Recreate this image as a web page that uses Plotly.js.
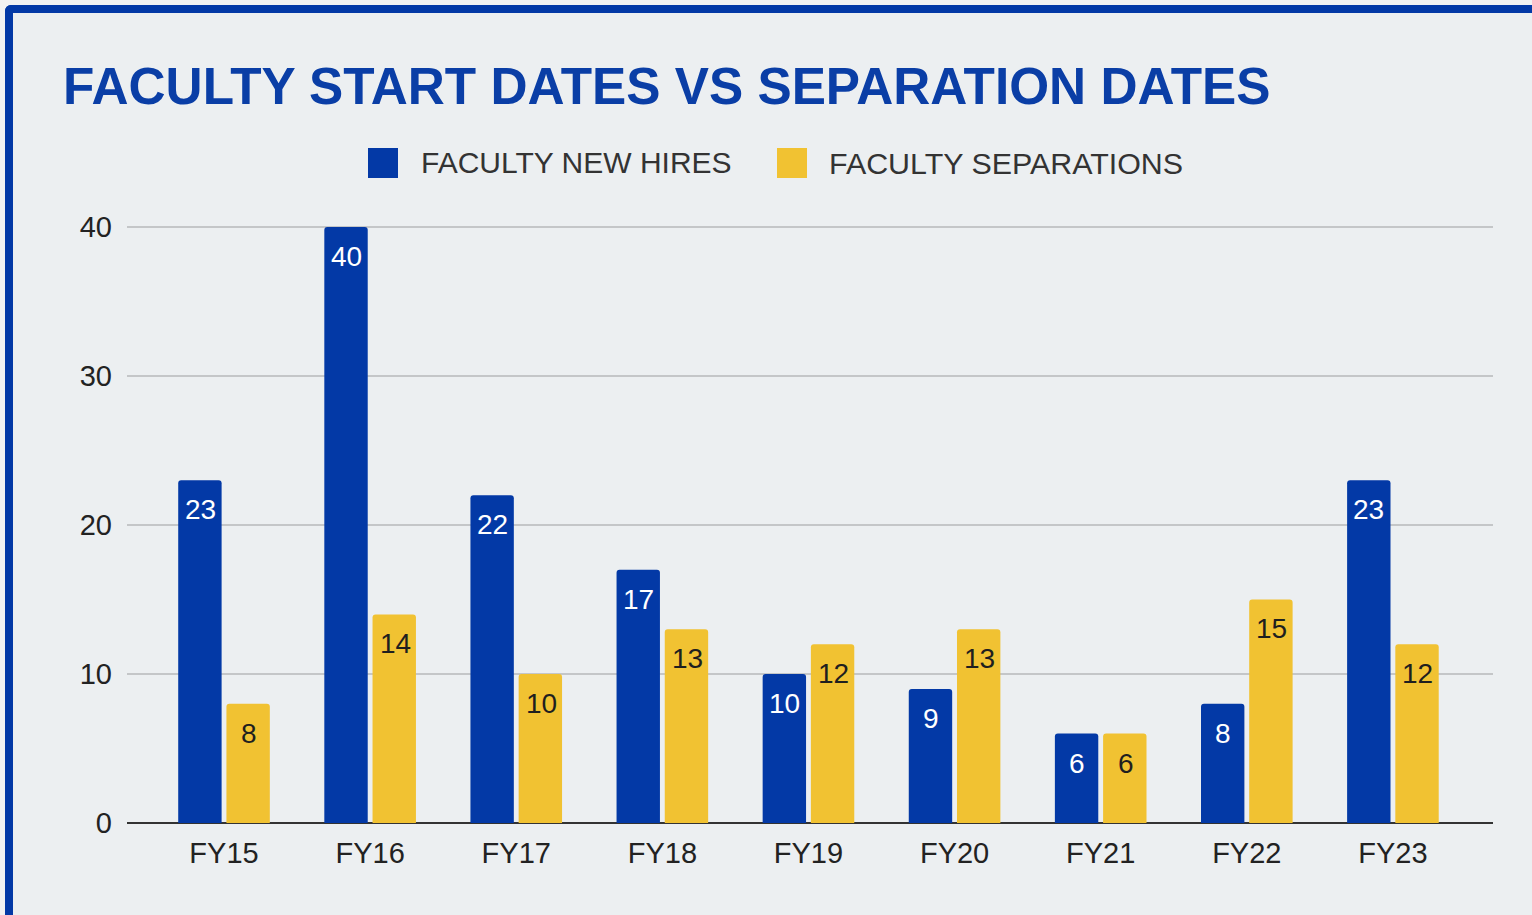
<!DOCTYPE html>
<html>
<head>
<meta charset="utf-8">
<script src="https://cdn.plot.ly/plotly-3.0.1.min.js"></script>
<style>
  html, body { margin:0; padding:0; background:#f2f2f2; width:1532px; height:915px; overflow:hidden; }
  #frame { position:absolute; left:5px; top:5px; width:1527px; height:910px; box-sizing:border-box;
           border-top:8px solid #0339A6; border-left:8px solid #0339A6; border-top-left-radius:6px;
           background:#ECEFF1; }
  #chart { position:absolute; left:0; top:0; width:1519px; height:902px; }
</style>
</head>
<body>
<div id="frame"><div id="chart"></div></div>
<script>
const categories = ["FY15","FY16","FY17","FY18","FY19","FY20","FY21","FY22","FY23"];
const newHires = [23, 40, 22, 17, 10, 9, 6, 8, 23];
const separations = [8, 14, 10, 13, 12, 13, 6, 15, 12];
const seriesNames = ["FACULTY NEW HIRES", "FACULTY SEPARATIONS"];
const yTicks = [0, 10, 20, 30, 40];

const BLUE = "#0339A6", YELLOW = "#F1C232", TEXT = "#222222";
const W = 1519, H = 902, ML = 114, MR = 39, MT = 211, MB = 92;
const PW = W - ML - MR, PH = H - MT - MB;
const px2x = p => (p - ML) / PW;
const px2y = p => (H - MB - p) / PH;

const traces = [
  { type:"bar", x:categories, y:newHires, name:seriesNames[0], marker:{color:BLUE}, showlegend:false, hoverinfo:"x+y" },
  { type:"bar", x:categories, y:separations, name:seriesNames[1], marker:{color:YELLOW}, showlegend:false, hoverinfo:"x+y" }
];

const annotations = [];
const SLOT_HALF = 24;
categories.forEach((c, i) => {
  annotations.push({ x:c, y:newHires[i], xref:"x", yref:"y", xshift:-SLOT_HALF, yshift:-12, yanchor:"top",
    text:String(newHires[i]), showarrow:false, font:{family:"Liberation Sans, Arial, sans-serif", size:28, color:"#ffffff"} });
  annotations.push({ x:c, y:separations[i], xref:"x", yref:"y", xshift:SLOT_HALF + 1, yshift:-12, yanchor:"top",
    text:String(separations[i]), showarrow:false, font:{family:"Liberation Sans, Arial, sans-serif", size:28, color:"#1f1f1f"} });
});

// legend (manual, to match large square swatches)
const legendItems = [
  { color:BLUE, name:seriesNames[0], sq:355, tx:406, fs:30 },
  { color:YELLOW, name:seriesNames[1], sq:764, tx:814, fs:30.4 }
];
const shapes = [];
legendItems.forEach(it => {
  shapes.push({ type:"rect", xref:"paper", yref:"paper", x0:px2x(it.sq), x1:px2x(it.sq+30), y0:px2y(165), y1:px2y(135),
    fillcolor:it.color, line:{width:0} });
  annotations.push({ xref:"paper", yref:"paper", x:px2x(it.tx), y:px2y(150), xanchor:"left", yanchor:"middle",
    text:it.name, showarrow:false, font:{family:"Liberation Sans, Arial, sans-serif", size:it.fs, color:"#333333"} });
});

const layout = {
  width:W, height:H,
  paper_bgcolor:"rgba(0,0,0,0)", plot_bgcolor:"rgba(0,0,0,0)",
  margin:{l:ML, r:MR, t:MT, b:MB, pad:0},
  font:{family:"Liberation Sans, Arial, sans-serif", color:TEXT},
  title:{ text:"FACULTY START DATES VS SEPARATION DATES", xref:"container", yref:"container",
    x:50/W, xanchor:"left", y:1-73/H, yanchor:"middle",
    font:{family:"Liberation Sans, Arial, sans-serif", size:51.3, color:"#0A3EA6", weight:"bold"} },
  barmode:"group", bargap:0.34, bargroupgap:0.1, barcornerradius:3,
  showlegend:false,
  xaxis:{ type:"category", range:[-0.664, 8.685], showgrid:false, zeroline:false, showline:false,
    ticks:"", tickfont:{size:29, color:TEXT}, ticklabelstandoff:10, fixedrange:true },
  yaxis:{ range:[0, 40.2], tickvals:yTicks, ticktext:yTicks.map(String), showgrid:true, gridcolor:"#C4C6C8", gridwidth:2,
    zeroline:true, zerolinecolor:"#333333", zerolinewidth:2, showline:false, ticks:"",
    tickfont:{size:29, color:TEXT}, ticklabelstandoff:14, fixedrange:true },
  shapes:shapes, annotations:annotations
};

Plotly.newPlot("chart", traces, layout, {displayModeBar:false, staticPlot:true});
</script>
</body>
</html>
